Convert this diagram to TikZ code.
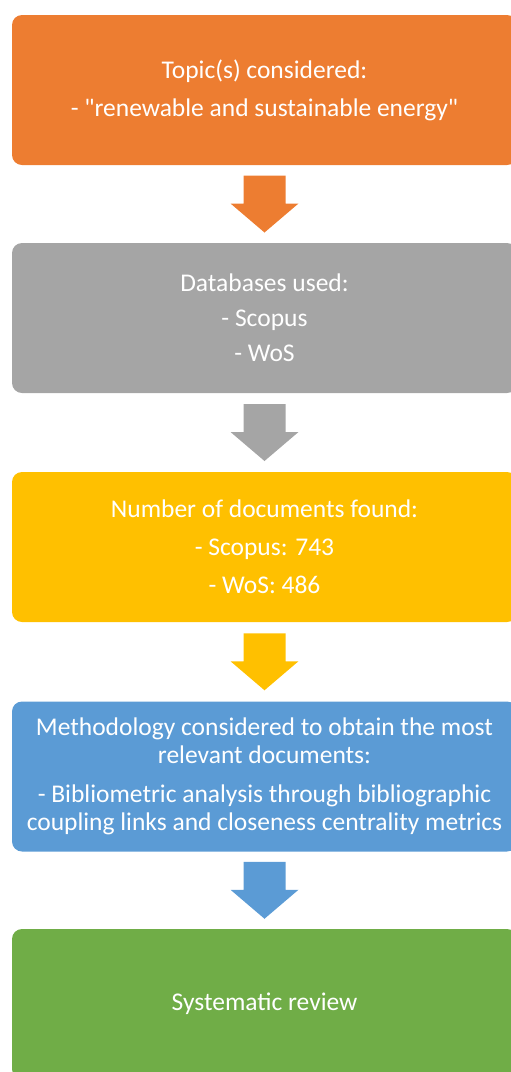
\documentclass[tikz,border=0pt]{standalone}
\usepackage{fontspec}
\setmainfont{Carlito}[Ligatures=TeXOff]
\usetikzlibrary{calc}
\definecolor{topicorange}{HTML}{ED7D31}
\definecolor{dbgray}{HTML}{A5A5A5}
\definecolor{docsyellow}{HTML}{FFC000}
\definecolor{methodblue}{HTML}{5B9BD5}
\definecolor{reviewgreen}{HTML}{70AD47}
\begin{document}
\begin{tikzpicture}[x=1pt, y=1pt,
  stage/.style={rounded corners=10pt, minimum width=505pt, minimum height=150pt,
    inner sep=0pt, text=white, align=center, font=\fontsize{25.5}{28}\selectfont}]
\useasboundingbox (0,0) rectangle (511,-1072);
\node[stage, fill=topicorange] (topic) at (264.5,-90) {Topic(s) considered:\\[10pt]- "renewable and sustainable energy"};
\node[stage, fill=dbgray, text depth=0pt] (db) at (264.5,-318) {Databases used:\\[7pt]- Scopus\\[7pt]- WoS};
\node[stage, fill=docsyellow] (docs) at (264.5,-547) {Number of documents found:\\[10pt]- Scopus: 743\\[10pt]- WoS: 486};
\node[stage, fill=methodblue] (method) at (264.5,-776.5) {Methodology considered to obtain the most\\relevant documents:\\[11pt]- Bibliometric analysis through bibliographic\\coupling links and closeness centrality metrics};
\node[stage, fill=reviewgreen] (review) at (264.5,-1004) {Systematic review};
\foreach \a/\b/\c in {topic/db/topicorange, db/docs/dbgray, docs/method/docsyellow, method/review/methodblue} {
  \coordinate (mid) at ($(\a.south)!0.5!(\b.north)$);
  \fill[\c] ($(mid)+(-21,28.5)$) -- ++(42,0) -- ++(0,-28) -- ++(13,0) -- ++(-34,-29) -- ++(-34,29) -- ++(13,0) -- cycle;
}
\end{tikzpicture}
\end{document}
